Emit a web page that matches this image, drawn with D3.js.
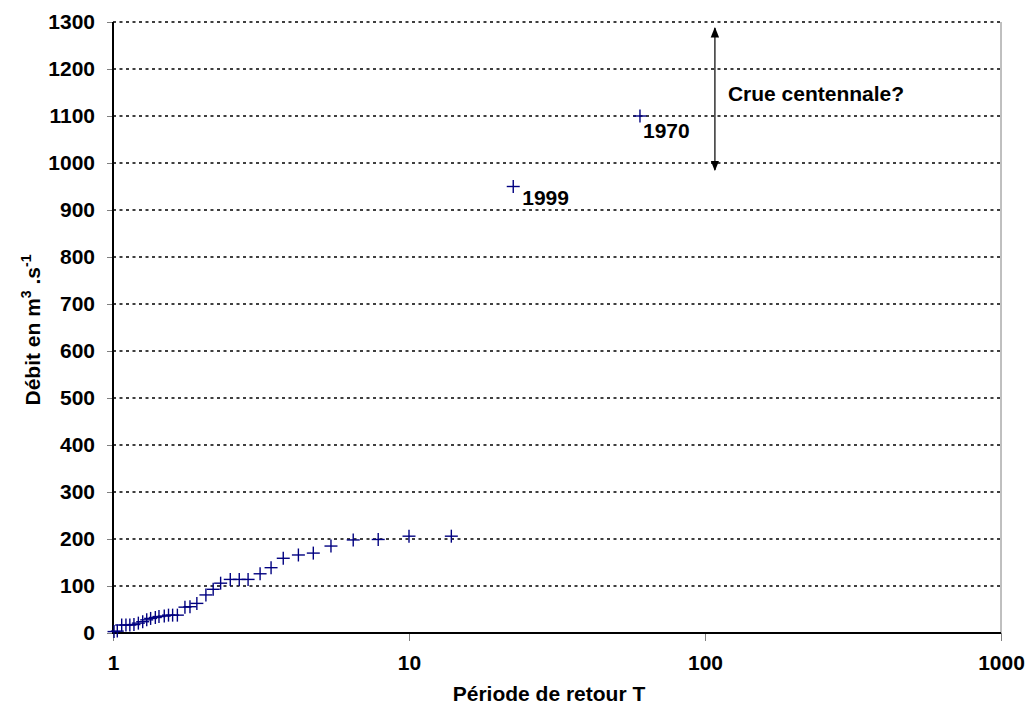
<!DOCTYPE html>
<html lang="fr">
<head>
<meta charset="UTF-8">
<script src="https://d3js.org/d3.v7.min.js"></script>
<style>
  body { margin: 0; background: #fff; }
  text { font-family: Arial, "Liberation Sans", sans-serif; font-weight: bold; }
</style>
</head>
<body>
<svg id="chart" width="1031" height="711"></svg>
<script>
// return period T and discharge Q (m3/s)
var periods = [1.008, 1.034, 1.07, 1.106, 1.14, 1.177, 1.218, 1.26, 1.30, 1.34,
               1.39, 1.43, 1.49, 1.54, 1.59, 1.65, 1.75, 1.82, 1.92, 2.06,
               2.18, 2.31, 2.49, 2.67, 2.86, 3.14, 3.42, 3.76, 4.23, 4.75,
               5.45, 6.48, 7.87, 10.0, 13.9, 22.5, 60.3];
var debits = [3, 4, 17, 17, 17, 18, 21, 24, 28, 31,
              33, 35, 36, 38, 38, 38, 55, 56, 63, 81,
              93, 106, 114, 114, 114, 126, 139, 159, 166, 170,
              185, 198, 199, 206, 206, 950, 1100];
var labelled = [{t: 22.5, q: 950, year: "1999"}, {t: 60.3, q: 1100, year: "1970"}];
var xTicks = [1, 10, 100, 1000];
var yTicks = d3.range(0, 1301, 100);
var arrowT = 108, arrowFrom = 985, arrowTo = 1287;

var svg = d3.select('#chart');
var mLeft = 113, mRight = 1001, mTop = 22, mBottom = 633;
var fs = 21;

var x = d3.scaleLog().domain([1, 1000]).range([mLeft, mRight]);
var y = d3.scaleLinear().domain([0, 1300]).range([mBottom, mTop]);

// gridlines
svg.append('g').selectAll('line')
    .data(yTicks.slice(1))
    .enter().append('line')
    .attr('x1', mLeft).attr('x2', mRight)
    .attr('y1', function(d){ return y(d); })
    .attr('y2', function(d){ return y(d); })
    .attr('stroke', '#000')
    .attr('stroke-width', 1.6)
    .attr('stroke-dasharray', '3,3.5');

// box right side
svg.append('line')
    .attr('x1', mRight).attr('x2', mRight).attr('y1', mTop).attr('y2', mBottom)
    .attr('stroke', '#808080').attr('stroke-width', 1);

// y axis
var yAxis = d3.axisLeft(y).tickValues(yTicks).tickFormat(d3.format('d')).tickSize(6).tickPadding(12);
var gy = svg.append('g').attr('transform', 'translate(' + mLeft + ',0)').call(yAxis);
gy.select('.domain').remove();
gy.selectAll('.tick line').attr('stroke', '#808080');
gy.selectAll('.tick text').attr('font-size', fs).attr('fill', '#000')
    .style('font-family', 'Arial, "Liberation Sans", sans-serif');

// x axis
var xAxis = d3.axisBottom(x).tickValues(xTicks).tickFormat(d3.format('d')).tickSize(8).tickPadding(14);
var gx = svg.append('g').attr('transform', 'translate(0,' + mBottom + ')').call(xAxis);
gx.select('.domain').remove();
gx.selectAll('.tick line').attr('stroke', '#808080');
gx.selectAll('.tick text').attr('font-size', fs).attr('fill', '#000')
    .style('font-family', 'Arial, "Liberation Sans", sans-serif');

// main axis lines
svg.append('line').attr('x1', mLeft).attr('x2', mLeft).attr('y1', mTop).attr('y2', mBottom + 1)
    .attr('stroke', '#000').attr('stroke-width', 2);
svg.append('line').attr('x1', mLeft - 1).attr('x2', mRight).attr('y1', mBottom).attr('y2', mBottom)
    .attr('stroke', '#000').attr('stroke-width', 2);

// points as plus markers
var pts = periods.map(function(t, i){ return {t: t, q: debits[i]}; });
var marks = svg.append('g').selectAll('g')
    .data(pts)
    .enter().append('g')
    .attr('transform', function(d){ return 'translate(' + x(d.t) + ',' + y(d.q) + ')'; });
marks.append('line').attr('x1', -6.5).attr('x2', 6.5).attr('y1', 0).attr('y2', 0);
marks.append('line').attr('x1', 0).attr('x2', 0).attr('y1', -6.5).attr('y2', 6.5);
marks.selectAll('line').attr('stroke', '#000080').attr('stroke-width', 1.4);

// year labels (offsets differ a little in the original)
var labelShift = {"1999": [9, 18], "1970": [3, 22]};
svg.append('g').selectAll('text')
    .data(labelled)
    .enter().append('text')
    .attr('x', function(d){ return x(d.t) + labelShift[d.year][0]; })
    .attr('y', function(d){ return y(d.q) + labelShift[d.year][1]; })
    .attr('font-size', fs)
    .text(function(d){ return d.year; });

// arrow for the 100-year flood
var defs = svg.append('defs');
defs.append('marker').attr('id', 'arr')
    .attr('viewBox', '0 0 10 10').attr('refX', 9).attr('refY', 5)
    .attr('markerWidth', 7).attr('markerHeight', 7).attr('orient', 'auto-start-reverse')
    .append('path').attr('d', 'M0,1 L10,5 L0,9 Z').attr('fill', '#000');
svg.append('line')
    .attr('x1', x(arrowT)).attr('x2', x(arrowT))
    .attr('y1', y(arrowFrom)).attr('y2', y(arrowTo))
    .attr('stroke', '#333').attr('stroke-width', 1.5)
    .attr('marker-start', 'url(#arr)').attr('marker-end', 'url(#arr)');
svg.append('text')
    .attr('x', x(arrowT) + 13).attr('y', 101)
    .attr('font-size', fs)
    .text('Crue centennale?');

// axis titles
svg.append('text')
    .attr('x', 549).attr('y', 701)
    .attr('text-anchor', 'middle').attr('font-size', fs)
    .text('Période de retour T');
var yt = svg.append('text')
    .attr('transform', 'translate(40,' + 330 + ') rotate(-90)')
    .attr('text-anchor', 'middle').attr('font-size', fs);
yt.append('tspan').text('Débit en m');
yt.append('tspan').attr('dy', -9).attr('font-size', 14).text('3');
yt.append('tspan').attr('dy', 9).text(' .s');
yt.append('tspan').attr('dy', -9).attr('font-size', 14).text('-1');
</script>
</body>
</html>
